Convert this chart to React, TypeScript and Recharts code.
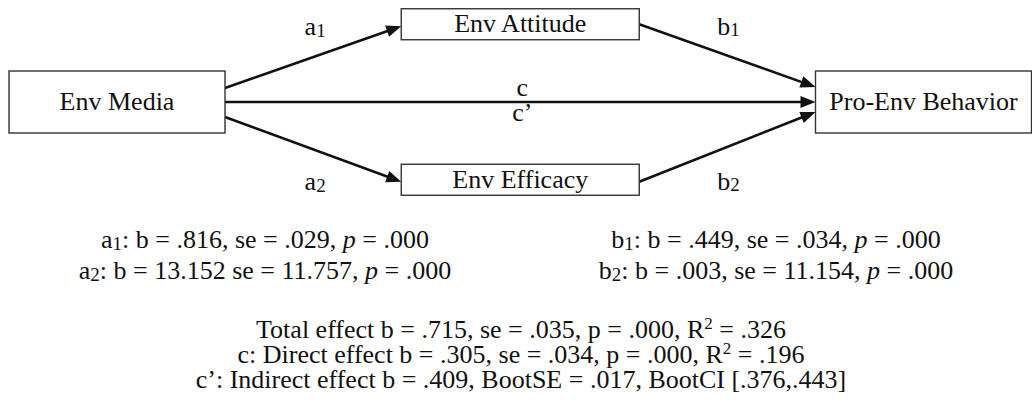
import { ScatterChart, Scatter, XAxis, YAxis, ReferenceLine, Customized } from 'recharts'

// ---------------------------------------------------------------------------
// Data
// ---------------------------------------------------------------------------

// Variables of the mediation model, placed on a small grid
const nodeIds = ['media', 'attitude', 'efficacy', 'behavior']
const nodeNames = ['Env Media', 'Env Attitude', 'Env Efficacy', 'Pro-Env Behavior']
const nodeCols = [0, 1, 1, 2] // 0 = X, 1 = mediators, 2 = Y
const nodeRows = [0, -1, 1, 0] // -1 top, 0 middle, 1 bottom

// Paths between variables
const pathNames = ['a1', 'a2', 'c', 'b1', 'b2']
const pathFrom = ['media', 'media', 'media', 'attitude', 'efficacy']
const pathTo = ['attitude', 'efficacy', 'behavior', 'behavior', 'behavior']

type Seg = [string, '' | 'sub' | 'sup' | 'i']

const pathLabelAbove: Record<string, Seg[]> = {
  a1: [['a', ''], ['1', 'sub']],
  b1: [['b', ''], ['1', 'sub']],
  c: [['c', '']],
}
const pathLabelBelow: Record<string, Seg[]> = {
  a2: [['a', ''], ['2', 'sub']],
  b2: [['b', ''], ['2', 'sub']],
  c: [['c\u2019', '']],
}

// Coefficients printed under the diagram
const aStats: Seg[][] = [
  [['a', ''], ['1', 'sub'], [': b = .816, se = .029, ', ''], ['p', 'i'], [' = .000', '']],
  [['a', ''], ['2', 'sub'], [': b = 13.152 se = 11.757, ', ''], ['p', 'i'], [' = .000', '']],
]
const bStats: Seg[][] = [
  [['b', ''], ['1', 'sub'], [': b = .449, se = .034, ', ''], ['p', 'i'], [' = .000', '']],
  [['b', ''], ['2', 'sub'], [': b = .003, se = 11.154, ', ''], ['p', 'i'], [' = .000', '']],
]
const effectStats: Seg[][] = [
  [['Total effect b = .715, se = .035, p = .000, R', ''], ['2', 'sup'], [' = .326', '']],
  [['c: Direct effect b = .305, se = .034, p = .000, R', ''], ['2', 'sup'], [' = .196', '']],
  [['c\u2019: Indirect effect b = .409, BootSE = .017, BootCI [.376,.443]', '']],
]

// ---------------------------------------------------------------------------
// Layout / style
// ---------------------------------------------------------------------------

const W = 1032
const H = 410
const FONT = "'Liberation Serif', 'Times New Roman', serif"
const FS = 26
const INK = '#111'

// grid -> pixel mapping (used only to set the axis domains)
const X0 = 117
const COL_STEP = 403.25
const Y0 = 102
const ROW_STEP = 77.75

const BOX = {
  outer: { w: 216, h: 62 },
  mediator: { w: 238, h: 31 },
}

// where each arrow leaves / enters a box (px offset from box centre line)
const PORTS: Record<string, { s: number; e: number }> = {
  a1: { s: -14, e: 2 },
  a2: { s: 15, e: 2 },
  c: { s: 0, e: 0 },
  b1: { s: 0, e: -15 },
  b2: { s: 2, e: 10 },
}

// label offset from arrow midpoint
const LABEL_OFF: Record<string, { dx: number; up: number; down: number }> = {
  a1: { dx: 2, up: -22, down: 0 },
  a2: { dx: 2, up: 0, down: 41 },
  c: { dx: 2, up: -6, down: 19 },
  b1: { dx: 1, up: -21, down: 0 },
  b2: { dx: 1, up: 0, down: 43 },
}

const nodes = nodeIds.map((id, i) => ({
  id,
  name: nodeNames[i],
  col: nodeCols[i],
  row: nodeRows[i],
}))

const boxOf = (id: string) => {
  const n = nodes.find((d) => d.id === id)!
  return n.col === 1 ? BOX.mediator : BOX.outer
}

// ---------------------------------------------------------------------------
// Rich text (sub / superscripts, italics)
// ---------------------------------------------------------------------------

function RichText({ x, y, segs }: { x: number; y: number; segs: Seg[] }) {
  let shift = 0
  return (
    <text x={x} y={y} textAnchor="middle" fontFamily={FONT} fontSize={FS} fill={INK}>
      {segs.map(([t, kind], i) => {
        const target = kind === 'sub' ? 1.5 : kind === 'sup' ? -9 : 0
        const dy = target - shift
        shift = target
        return (
          <tspan
            key={i}
            dy={dy}
            fontSize={kind === 'sub' ? 19 : kind === 'sup' ? 17 : FS}
            fontStyle={kind === 'i' ? 'italic' : 'normal'}
          >
            {t}
          </tspan>
        )
      })}
    </text>
  )
}

// ---------------------------------------------------------------------------
// Node box
// ---------------------------------------------------------------------------

function NodeBox(props: any) {
  const { cx, cy, payload } = props
  const { w, h } = payload.col === 1 ? BOX.mediator : BOX.outer
  return (
    <g>
      <rect x={cx - w / 2} y={cy - h / 2} width={w} height={h} fill="#fff" stroke="#333" strokeWidth={1.4} />
      <text x={cx} y={cy + 8} textAnchor="middle" fontFamily={FONT} fontSize={FS} fill={INK}>
        {payload.name}
      </text>
    </g>
  )
}

// ---------------------------------------------------------------------------
// Arrow (custom ReferenceLine shape)
// ---------------------------------------------------------------------------

function arrowShape(name: string, from: string, to: string) {
  return (p: any) => {
    const port = PORTS[name]
    const x1 = p.x1 + boxOf(from).w / 2
    const y1 = p.y1 + port.s
    const x2 = p.x2 - boxOf(to).w / 2
    const y2 = p.y2 + port.e
    const len = Math.hypot(x2 - x1, y2 - y1)
    const ux = (x2 - x1) / len
    const uy = (y2 - y1) / len
    const L = 15
    const hw = 6
    const bx = x2 - ux * L
    const by = y2 - uy * L
    const head = `${x2},${y2} ${bx - uy * hw},${by + ux * hw} ${bx + uy * hw},${by - ux * hw}`
    const mx = (x1 + x2) / 2
    const my = (y1 + y2) / 2
    const off = LABEL_OFF[name]
    return (
      <g>
        <line x1={x1} y1={y1} x2={bx + ux * 2} y2={by + uy * 2} stroke={INK} strokeWidth={2.6} />
        <polygon points={head} fill={INK} />
        {pathLabelAbove[name] && <RichText x={mx + off.dx} y={my + off.up} segs={pathLabelAbove[name]} />}
        {pathLabelBelow[name] && <RichText x={mx + off.dx} y={my + off.down} segs={pathLabelBelow[name]} />}
      </g>
    )
  }
}

// ---------------------------------------------------------------------------
// Coefficient block
// ---------------------------------------------------------------------------

function StatsBlock() {
  return (
    <g>
      {aStats.map((segs, i) => (
        <RichText key={`a${i}`} x={265} y={248 + i * 31} segs={segs} />
      ))}
      {bStats.map((segs, i) => (
        <RichText key={`b${i}`} x={776} y={248 + i * 31} segs={segs} />
      ))}
      {effectStats.map((segs, i) => (
        <RichText key={`e${i}`} x={521} y={338 + i * 25} segs={segs} />
      ))}
    </g>
  )
}

// ---------------------------------------------------------------------------
// App
// ---------------------------------------------------------------------------

export default function App() {
  const xDomain = [-X0 / COL_STEP, (W - X0) / COL_STEP]
  const yDomain = [-Y0 / ROW_STEP, (H - Y0) / ROW_STEP]

  return (
    <div style={{ position: 'absolute', left: 0, top: 0, background: '#fff' }}>
      <ScatterChart width={W} height={H} margin={{ top: 0, right: 0, bottom: 0, left: 0 }}>
        <XAxis type="number" dataKey="col" domain={xDomain} allowDataOverflow hide />
        <YAxis type="number" dataKey="row" domain={yDomain} allowDataOverflow reversed hide />

        {pathNames.map((name, i) => {
          const a = nodes.find((d) => d.id === pathFrom[i])!
          const b = nodes.find((d) => d.id === pathTo[i])!
          return (
            <ReferenceLine
              key={name}
              segment={[
                { x: a.col, y: a.row },
                { x: b.col, y: b.row },
              ]}
              ifOverflow="visible"
              shape={arrowShape(name, pathFrom[i], pathTo[i])}
            />
          )
        })}

        <Scatter data={nodes} shape={NodeBox} isAnimationActive={false} />

        <Customized component={<StatsBlock />} />
      </ScatterChart>
    </div>
  )
}
